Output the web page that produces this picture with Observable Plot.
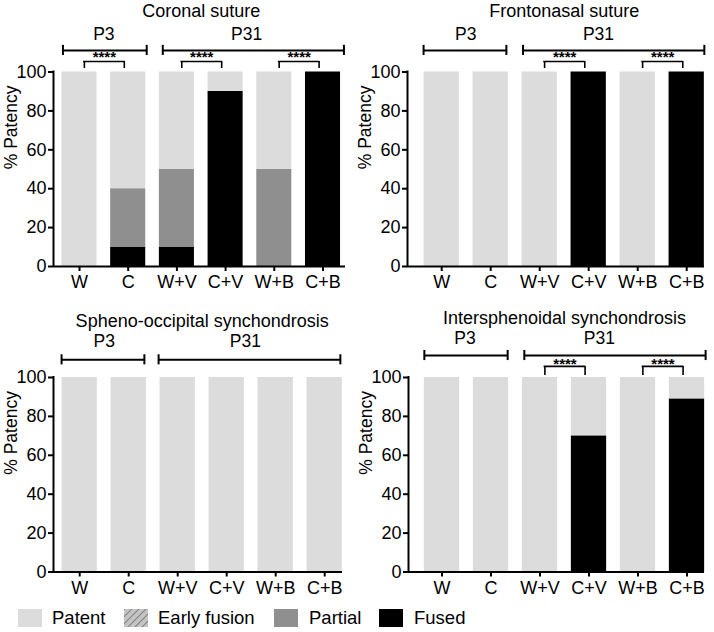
<!DOCTYPE html>
<html><head><meta charset="utf-8">
<script src="https://cdn.jsdelivr.net/npm/d3@7"></script>
<script src="https://cdn.jsdelivr.net/npm/@observablehq/plot@0.6"></script>
<style>
body{margin:0;background:#fff;}
#chart{position:relative;width:714px;height:632px;font-family:"Liberation Sans",Arial,sans-serif;color:#000;overflow:hidden;}
.panel{position:absolute;}
.lg-sw{position:absolute;width:24px;height:18px;}
.lg-tx{position:absolute;font-size:18.5px;line-height:18px;white-space:nowrap;}
</style></head><body><div id="chart"></div>
<script>
// ---------- data ----------
const categories = ["W", "C", "W+V", "C+V", "W+B", "C+B"];
const statuses = ["Fused", "Partial", "Early fusion", "Patent"];
const statusColors = ["#000000", "#8f8f8f", "url(#hatch)", "#dcdcdc"];
const legendOrder = ["Patent", "Early fusion", "Partial", "Fused"];
const groupLabels = ["P3", "P31"];
const yTicks = [0, 20, 40, 60, 80, 100];
const sigLabel = "****";

const coronalFused   = [0, 10, 10, 90, 0, 100];
const coronalPartial = [0, 30, 40, 0, 50, 0];
const coronalEarly   = [0, 0, 0, 0, 0, 0];
const coronalPatent  = [100, 60, 50, 10, 50, 0];
const coronalSig     = [[0, 1], [2, 3], [4, 5]];

const frontoFused   = [0, 0, 0, 100, 0, 100];
const frontoPartial = [0, 0, 0, 0, 0, 0];
const frontoEarly   = [0, 0, 0, 0, 0, 0];
const frontoPatent  = [100, 100, 100, 0, 100, 0];
const frontoSig     = [[2, 3], [4, 5]];

const sphenoFused   = [0, 0, 0, 0, 0, 0];
const sphenoPartial = [0, 0, 0, 0, 0, 0];
const sphenoEarly   = [0, 0, 0, 0, 0, 0];
const sphenoPatent  = [100, 100, 100, 100, 100, 100];
const sphenoSig     = [];

const interFused   = [0, 0, 0, 70, 0, 89];
const interPartial = [0, 0, 0, 0, 0, 0];
const interEarly   = [0, 0, 0, 0, 0, 0];
const interPatent  = [100, 100, 100, 30, 100, 11];
const interSig     = [[2, 3], [4, 5]];

// ---------- layout (pixels / annotation placement) ----------
const panels = [
  {title: "Coronal suture", fused: coronalFused, partial: coronalPartial, early: coronalEarly, patent: coronalPatent, sig: coronalSig,
   left: 0, top: 0, width: 354, height: 300, axisX: [53, 345], center0: 79, step: 48.7, y100: 71.5, y0: 266,
   titleX: 2.5, titleY: 131.1, groupX: [0.5, 3.43], groupY: 119.3, spans: [[-0.34, 1.38], [1.71, 5.43]], spanY: 111.1, sigTop: 105.4, sigBottom: 101.8, sigTextY: 107.7},
  {title: "Frontonasal suture", fused: frontoFused, partial: frontoPartial, early: frontoEarly, patent: frontoPatent, sig: frontoSig,
   left: 354, top: 0, width: 360, height: 300, axisX: [53, 350], center0: 87.2, step: 49, y100: 71.5, y0: 266,
   titleX: 2.5, titleY: 131.1, groupX: [0.49, 3.2], groupY: 119.3, spans: [[-0.37, 1.32], [1.66, 5.36]], spanY: 111.1, sigTop: 105.4, sigBottom: 101.8, sigTextY: 107.7},
  {title: "Spheno-occipital synchondrosis", fused: sphenoFused, partial: sphenoPartial, early: sphenoEarly, patent: sphenoPatent, sig: sphenoSig,
   left: 0, top: 300, width: 354, height: 300, axisX: [53, 342], center0: 79.2, step: 49, y100: 77, y0: 271.5,
   titleX: 2.5, titleY: 129.0, groupX: [0.5, 3.38], groupY: 118.5, spans: [[-0.37, 1.32], [1.61, 5.32]], spanY: 109.1, sigTop: 105.5, sigBottom: 101, sigTextY: 107.5},
  {title: "Intersphenoidal synchondrosis", fused: interFused, partial: interPartial, early: interEarly, patent: interPatent, sig: interSig,
   left: 354, top: 300, width: 360, height: 300, axisX: [54, 350], center0: 87.5, step: 49, y100: 77, y0: 271.5,
   titleX: 2.5, titleY: 130.6, groupX: [0.47, 3.21], groupY: 120.3, spans: [[-0.36, 1.34], [1.68, 5.38]], spanY: 111.3, sigTop: 105.7, sigBottom: 101.0, sigTextY: 107.0}
];

const half = 0.36;     // half bar width in category units
const capH = 2.6;      // bracket cap half-height in % units
const FONT = "Liberation Sans, Arial, Helvetica, sans-serif";

const chart = document.getElementById("chart");

// hatch pattern definition
const defs = document.createElementNS("http://www.w3.org/2000/svg", "svg");
defs.setAttribute("width", 0); defs.setAttribute("height", 0);
defs.style.position = "absolute";
defs.innerHTML = `<defs><pattern id="hatch" patternUnits="userSpaceOnUse" width="5" height="5" patternTransform="rotate(45)">
<rect width="5" height="5" fill="#c4c4c4"/><line x1="0" y1="0" x2="0" y2="5" stroke="#555" stroke-width="1.2"/></pattern></defs>`;
chart.appendChild(defs);

for (const p of panels) {
  const byStatus = {"Fused": p.fused, "Partial": p.partial, "Early fusion": p.early, "Patent": p.patent};
  const segs = [];
  categories.forEach((c, i) => {
    let acc = 0;
    for (const s of statuses) {
      const v = byStatus[s][i];
      if (v > 0) segs.push({i, status: s, y1: acc, y2: acc + v});
      acc += v;
    }
  });
  const xDomain = [(p.axisX[0] - p.center0) / p.step, (p.axisX[1] - p.center0) / p.step];
  const spans = p.spans.map((s, k) => ({x1: s[0], x2: s[1], label: groupLabels[k], lx: p.groupX[k]}));
  const sig = p.sig.map(([a, b]) => ({x1: a + 0.1, x2: a + 0.92}));

  const plot = Plot.plot({
    width: p.width, height: p.height,
    marginLeft: p.axisX[0], marginRight: p.width - p.axisX[1],
    marginTop: p.y100, marginBottom: p.height - p.y0,
    style: {fontFamily: FONT, fontSize: "18px", color: "#000", background: "transparent", overflow: "visible"},
    x: {type: "linear", domain: xDomain, range: p.axisX},
    y: {domain: [0, 100], range: [p.y0, p.y100]},
    color: {domain: statuses, range: statusColors},
    marks: [
      Plot.rect(segs, {x1: d => d.i - half, x2: d => d.i + half, y1: "y1", y2: "y2", fill: "status"}),
      Plot.ruleY([0], {stroke: "#000", strokeWidth: 2}),
      Plot.ruleX([xDomain[0]], {y1: 0, y2: 100, stroke: "#000", strokeWidth: 2, strokeLinecap: "square"}),
      Plot.axisY({ticks: yTicks, tickSize: 5, tickPadding: 2, strokeWidth: 2, fontSize: 18, label: null}),
      Plot.axisX({ticks: d3.range(categories.length), tickFormat: i => categories[i], tickSize: 5, tickPadding: 4, strokeWidth: 2, fontSize: 18, label: null}),
      Plot.text(["% Patency"], {frameAnchor: "left", rotate: -90, dx: -42, fontSize: 17.5}),
      Plot.text([p.title], {x: p.titleX, y: p.titleY, fontSize: 18}),
      // group brackets
      Plot.ruleY(spans, {x1: "x1", x2: "x2", y: p.spanY, stroke: "#000", strokeWidth: 2}),
      Plot.ruleX(spans, {x: "x1", y1: p.spanY - capH, y2: p.spanY + capH, stroke: "#000", strokeWidth: 2}),
      Plot.ruleX(spans, {x: "x2", y1: p.spanY - capH, y2: p.spanY + capH, stroke: "#000", strokeWidth: 2}),
      Plot.text(spans, {x: "lx", y: p.groupY, text: "label", fontSize: 17.5}),
      // significance brackets
      Plot.ruleY(sig, {x1: "x1", x2: "x2", y: p.sigTop, stroke: "#000", strokeWidth: 1.6, strokeLinecap: "square"}),
      Plot.ruleX(sig, {x: "x1", y1: p.sigBottom, y2: p.sigTop, stroke: "#000", strokeWidth: 1.6}),
      Plot.ruleX(sig, {x: "x2", y1: p.sigBottom, y2: p.sigTop, stroke: "#000", strokeWidth: 1.6}),
      Plot.text(sig, {x: d => (d.x1 + d.x2) / 2, y: p.sigTextY, text: () => sigLabel, fontSize: 15, fill: "#000", fontWeight: "bold"})
    ]
  });
  plot.classList.add("panel");
  plot.style.left = p.left + "px";
  plot.style.top = p.top + "px";
  chart.appendChild(plot);
}

// legend
const legendSwatchX = [18, 124, 274, 379];
const legendTextX = [52, 158, 309, 414];
legendOrder.forEach((s, k) => {
  const sw = document.createElementNS("http://www.w3.org/2000/svg", "svg");
  sw.setAttribute("class", "lg-sw");
  sw.setAttribute("width", 24); sw.setAttribute("height", 18);
  sw.style.left = legendSwatchX[k] + "px"; sw.style.top = "609px";
  const col = statusColors[statuses.indexOf(s)];
  sw.innerHTML = `<rect x="0" y="0" width="24" height="18" fill="${col}"/>`;
  chart.appendChild(sw);
  const tx = document.createElement("div");
  tx.className = "lg-tx";
  tx.style.left = legendTextX[k] + "px"; tx.style.top = "609px";
  tx.textContent = s;
  chart.appendChild(tx);
});
</script></body></html>
